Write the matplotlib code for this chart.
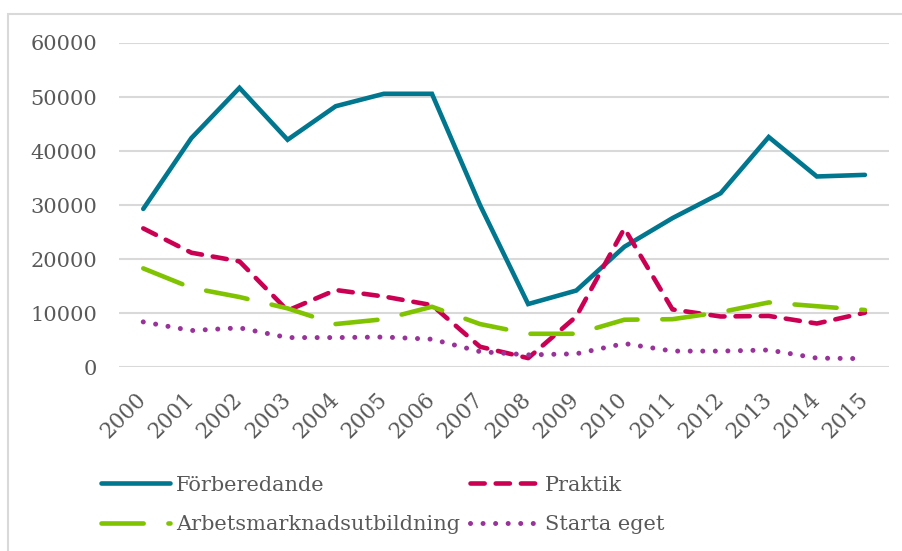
import matplotlib
matplotlib.use("Agg")
import matplotlib.pyplot as plt
from matplotlib.patches import Rectangle

years = [str(y) for y in range(2000, 2016)]
forberedande = [29300, 42400, 51700, 42100, 48300, 50600, 50600, 30000, 11700, 14200, 22300, 27600, 32200, 42600, 35300, 35600]
praktik = [25700, 21200, 19600, 10500, 14300, 13100, 11500, 3800, 1700, 9400, 25700, 10700, 9400, 9500, 8100, 10100]
arbetsmarknad = [18300, 14700, 13000, 10900, 8000, 8900, 11200, 8000, 6200, 6200, 8800, 8900, 10200, 12000, 11300, 10600]
starta_eget = [8400, 6800, 7300, 5500, 5500, 5600, 5200, 2900, 2300, 2500, 4400, 3000, 3000, 3200, 1700, 1600]
yticks = [0, 10000, 20000, 30000, 40000, 50000, 60000]

plt.rcParams['font.family'] = ['DejaVu Serif']
txt = '#595959'

fig = plt.figure(figsize=(9.03, 5.51), dpi=100)
ax = fig.add_axes([0.132, 0.3334, 0.8525, 0.5886])

x = list(range(len(years)))
l1, = ax.plot(x, forberedande, color='#00768F', lw=3.3, solid_capstyle='round', solid_joinstyle='miter', label='Förberedande')
l2, = ax.plot(x, praktik, color='#CC0052', lw=3.3, dashes=(3.1, 2.4), dash_capstyle='round', label='Praktik')
l3, = ax.plot(x, arbetsmarknad, color='#80C300', lw=3.3, dashes=(9.2, 5.4), dash_capstyle='round', label='Arbetsmarknadsutbildning')
l4, = ax.plot(x, starta_eget, color='#993399', lw=3.6, dashes=(0.01, 2.5), dash_capstyle='round', label='Starta eget')

ax.set_xlim(-0.5, len(years) - 0.5)
ax.set_ylim(0, 60000)
ax.set_yticks(yticks)
ax.set_yticklabels([str(v) for v in yticks], fontsize=15, color=txt)
ax.set_xticks(x)
ax.set_xticklabels(years, fontsize=15.5, color=txt, rotation=45, ha='right', va='center', rotation_mode='anchor')
ax.tick_params(axis='both', length=0)
ax.tick_params(axis='y', pad=16)
ax.tick_params(axis='x', pad=21)
ax.yaxis.grid(True, color='#d9d9d9', lw=1.5)
ax.set_axisbelow(True)
for s in ax.spines.values():
    s.set_visible(False)

handles = [l1, l3, l2, l4]
leg = fig.legend(handles=handles, loc='upper left', bbox_to_anchor=(0.112, 0.137), ncol=2,
                 frameon=False, fontsize=15, handlelength=3.3, handletextpad=0.3,
                 columnspacing=0.45, labelspacing=1.0, borderaxespad=0, borderpad=0)
for t in leg.get_texts():
    t.set_color(txt)

fig.patches.append(Rectangle((8/903, -0.1), 1.2, (551-14)/551 + 0.1, transform=fig.transFigure,
                             fill=False, edgecolor='#d9d9d9', lw=1.5))

fig.savefig('out.png', dpi=100)
